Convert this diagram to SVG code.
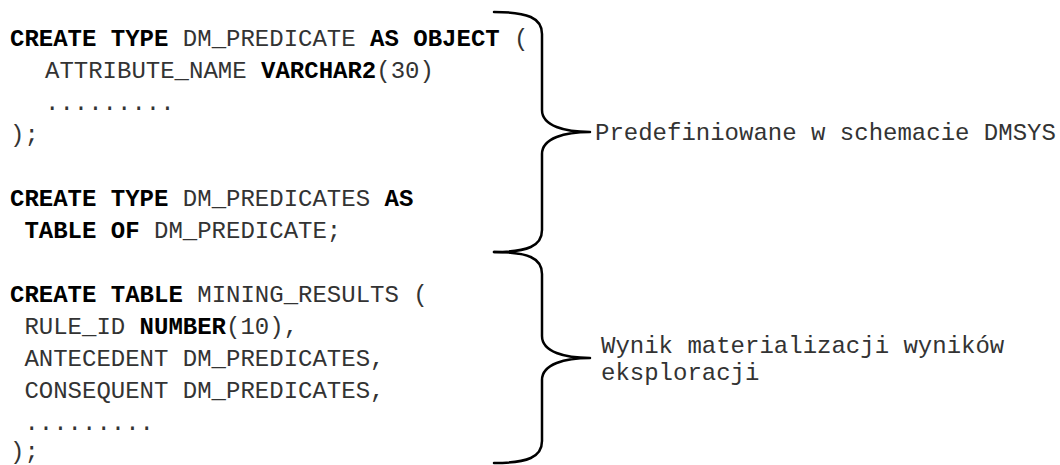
<svg xmlns="http://www.w3.org/2000/svg" width="1060" height="465" viewBox="0 0 1060 465">
<style>
text{font-family:"Liberation Mono","Courier New",monospace;font-size:24px;fill:#333}
.b{font-weight:bold;fill:#000}
.brace{fill:none;stroke:#000;stroke-width:2.5;stroke-linecap:round;stroke-linejoin:round}
</style>
<rect width="1060" height="465" fill="#fff"/>
<g id="code-types">
<text x="10" y="46"><tspan class="b">CREATE TYPE</tspan> DM_PREDICATE <tspan class="b">AS OBJECT</tspan> (</text>
<text x="45" y="78">ATTRIBUTE_NAME <tspan class="b">VARCHAR2</tspan>(30)</text>
<text x="45" y="110">.........</text>
<text x="10" y="142">);</text>
<text x="10" y="206"><tspan class="b">CREATE TYPE</tspan> DM_PREDICATES <tspan class="b">AS</tspan></text>
<text x="24.4" y="238"><tspan class="b">TABLE OF</tspan> DM_PREDICATE;</text>
</g>
<g id="code-table">
<text x="10" y="302"><tspan class="b">CREATE TABLE</tspan> MINING_RESULTS (</text>
<text x="24.4" y="334">RULE_ID <tspan class="b">NUMBER</tspan>(10),</text>
<text x="24.4" y="366">ANTECEDENT DM_PREDICATES,</text>
<text x="24.4" y="398">CONSEQUENT DM_PREDICATES,</text>
<text x="24.4" y="430">.........</text>
<text x="10" y="459">);</text>
</g>
<g id="connectors">
<path id="brace-1" class="brace" d="M494,12 C528,12 542,18 542,34 L542,110 C542,126 565,132 590,132 C565,132 542,138 542,154 L542,230 C542,246 528,252 494,252"/>
<path id="brace-2" class="brace" d="M494,252 C528,252 542,258 542,274 L542,336 C542,352 565,358 590,358 C565,358 542,364 542,380 L542,441 C542,457 528,463 494,463"/>
</g>
<g id="label-predefined">
<text x="595" y="140">Predefiniowane w schemacie DMSYS</text>
</g>
<g id="label-result">
<text x="601" y="353">Wynik materializacji wyników</text>
<text x="601" y="380">eksploracji</text>
</g>
</svg>
